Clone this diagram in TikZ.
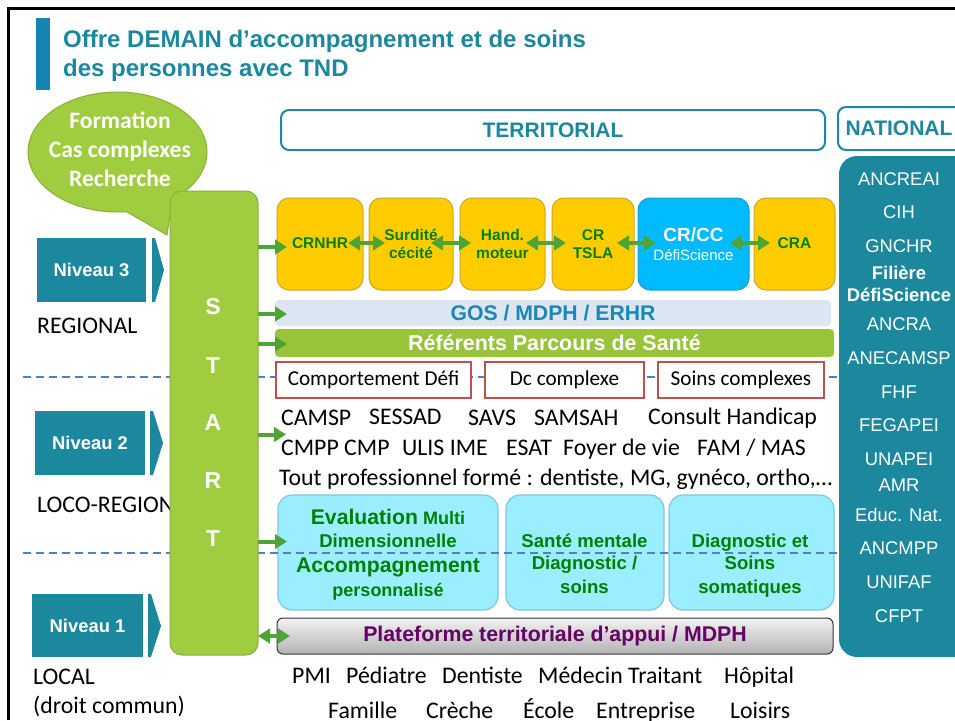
\documentclass[tikz,border=0pt]{standalone}
\usepackage{fontspec}
\setmainfont{Carlito}
\newfontfamily\arl{Liberation Sans}
\usetikzlibrary{arrows.meta,shapes.callouts,shapes.geometric}
\definecolor{teal}{HTML}{1B889D}
\definecolor{titlebar}{HTML}{1586B4}
\definecolor{lime}{HTML}{A0CD3F}
\definecolor{limeedge}{HTML}{8AAF38}
\definecolor{barlime}{HTML}{98C33B}
\definecolor{arrowgreen}{HTML}{4EA535}
\definecolor{gold}{HTML}{FFCC00}
\definecolor{goldedge}{HTML}{CDA725}
\definecolor{txtgreen}{HTML}{008000}
\definecolor{skyb}{HTML}{00BBFF}
\definecolor{skyedge}{HTML}{1C9DCF}
\definecolor{cyanb}{HTML}{9BEEFF}
\definecolor{cyanedge}{HTML}{82C6DE}
\definecolor{palebar}{HTML}{DCE6F2}
\definecolor{gosblue}{HTML}{1B87B5}
\definecolor{redbox}{HTML}{C0504D}
\definecolor{dashblue}{HTML}{4F81BD}
\definecolor{purp}{HTML}{660066}
\newcommand{\fs}[1]{\fontsize{#1}{#1}\selectfont}
\newcommand{\pxbox}[7]{\node[#6,inner sep=0pt,outer sep=0pt,minimum width={(#4-#2)*1pt},minimum height={(#5-#3)*1pt}] (#1) at ({(#2+#4)/2},{(#3+#5)/2}) {#7};}
\tikzset{
 lab/.style={anchor=base west,inner sep=0pt,text=black,font=\fs{23.8}},
 niveau/.style={fill=teal,text=white,font=\arl\bfseries\fs{18.4}},
 chev/.style={fill=teal},
 goldbox/.style={rectangle,rounded corners=12pt,fill=gold,draw=goldedge,line width=1pt,text=txtgreen,align=center,font=\arl\bfseries\fs{15.5}},
 cyanbox/.style={rectangle,rounded corners=14pt,fill=cyanb,draw=cyanedge,line width=1.2pt},
 cyantext/.style={inner sep=0pt,text=txtgreen,align=center,font=\arl\bfseries\fs{18.6}},
 redb/.style={rectangle,fill=white,draw=redbox,line width=2pt,text=black,font=\fs{21.2}},
 tealb/.style={rectangle,rounded corners=8pt,draw=teal,line width=2pt,fill=white,text=teal,font=\arl\bfseries\fs{21}},
 panel/.style={inner sep=0pt,text=white,font=\arl\fs{18.4}},
 arr/.style={draw=arrowgreen,line width=4pt,-{Triangle[length=12pt,width=14.5pt]}},
 darr/.style={draw=arrowgreen,line width=3.6pt,{Triangle[length=12pt,width=14.5pt]}-{Triangle[length=12pt,width=14.5pt]}},
 dashline/.style={draw=dashblue,line width=1.3pt,dash pattern=on 8pt off 5pt},
 startl/.style={inner sep=0pt,text=white,font=\arl\bfseries\fs{23}},
}
\begin{document}
\begin{tikzpicture}[x=1pt,y=-1pt]
\clip (0,0) rectangle (955,720);
\fill[white] (0,0) rectangle (955,720);
% frame
\coordinate (fa) at (8.5,720); \coordinate (fb) at (8.5,8.5); \coordinate (fc) at (955,8.5);
\draw[black,line width=2.5pt] (fa) -- (fb) -- (fc);
% title
\pxbox{bar}{36}{18}{50}{90}{fill=titlebar}{}
\node[anchor=north west,inner sep=0pt,align=left,text=teal,font=\arl\bfseries\fs{24}] (title) at (63,29.5) {Offre DEMAIN d’accompagnement et de soins\\[5.3pt]des personnes avec TND};
% side labels
\node[lab] (reg) at (37,333) {REGIONAL};
\node[lab] (loco) at (37,512) {LOCO-REGIONAL};
\node[lab] (loc) at (33,684) {LOCAL};
\node[lab] (droit) at (33,713) {(droit commun)};
% levels
\pxbox{n3}{37}{238}{146}{302}{niveau}{Niveau 3}
\pxbox{n2}{35}{411}{145}{475}{niveau}{Niveau 2}
\pxbox{n1}{32}{594}{143}{657}{niveau}{Niveau 1}
\fill[chev] (152,238) -- (155,238) -- (164,270) -- (155,302) -- (152,302) -- cycle;
\fill[chev] (150,411) -- (153,411) -- (163,443) -- (153,475) -- (150,475) -- cycle;
\fill[chev] (148,594) -- (151,594) -- (161,626) -- (151,657) -- (148,657) -- cycle;
% headers
\pxbox{terr}{281}{110}{825}{150}{tealb}{TERRITORIAL}
\pxbox{nat}{838}{107}{975}{150}{tealb}{}
\node[inner sep=0pt,text=teal,font=\arl\bfseries\fs{21}] (natt) at (899,128) {NATIONAL};
% gold boxes
\pxbox{crnhr}{277}{198}{363}{290}{goldbox}{\raisebox{1pt}{CRNHR}}
\pxbox{surd}{369}{198}{453}{290}{goldbox}{Surdité\\[3pt]cécité}
\pxbox{hand}{460}{198}{545}{290}{goldbox}{Hand.\\[3pt]moteur}
\pxbox{tsla}{552}{198}{634}{290}{goldbox}{CR\\[3pt]TSLA}
\pxbox{crcc}{638}{198}{749}{290}{goldbox,fill=skyb,draw=skyedge,text=white}{{\fs{19}CR/CC}\\[3pt]{\mdseries\fs{15}DéfiScience}}
\pxbox{cra}{754}{198}{835}{290}{goldbox}{\raisebox{1pt}{CRA}}
% bars
\pxbox{gos}{275}{300}{831}{326}{rectangle,rounded corners=4pt,fill=palebar,text=gosblue,font=\arl\bfseries\fs{21.2}}{\raisebox{-1pt}{GOS / MDPH / ERHR}}
\pxbox{ref}{275}{329}{834}{357}{rectangle,rounded corners=4pt,fill=barlime,text=white,font=\arl\bfseries\fs{21.4}}{\raisebox{-1pt}{Référents Parcours de Santé}}
% cyan boxes
\pxbox{evalb}{278}{495}{498}{610}{cyanbox}{}
\pxbox{sante}{506}{495}{664}{610}{cyanbox}{}
\pxbox{diag}{669}{495}{834}{610}{cyanbox}{}
\node[cyantext] (evalt) at (388,554.5) {{\fs{21.2}Evaluation} {\fs{18}Multi}\\[4.5pt]Dimensionnelle\\[6.5pt]{\fs{21.2}Accompagnement}\\[5pt]{\fs{18}personnalisé}};
\node[cyantext] (santet) at (584.5,564) {Santé mentale\\[3.5pt]Diagnostic /\\[5.5pt]soins};
\node[cyantext] (diagt) at (750,566) {Diagnostic et\\[3.5pt]Soins\\[5.5pt]somatiques};
% dashed level lines
\coordinate (d1a) at (23,377); \coordinate (d1b) at (840,377);
\coordinate (d2a) at (23,553); \coordinate (d2b) at (840,553);
\draw[dashline] (d1a) -- (d1b);
\draw[dashline] (d2a) -- (d2b);
% red boxes
\pxbox{comp}{276}{362}{471}{398}{redb}{\raisebox{-1pt}{Comportement Défi}}
\pxbox{dcc}{485}{362}{644}{398}{redb}{\raisebox{-1pt}{Dc complexe}}
\pxbox{soins}{658}{362}{824}{398}{redb}{\raisebox{-1pt}{Soins complexes}}
% text rows
\node[lab] (r1a) at (281,425) {CAMSP};
\node[lab] (r1b) at (369,424) {SESSAD};
\node[lab] (r1c) at (468,425) {SAVS};
\node[lab] (r1d) at (534,425) {SAMSAH};
\node[lab] (r1e) at (648,424) {Consult Handicap};
\node[lab] (r2a) at (281,455) {CMPP CMP};
\node[lab] (r2b) at (402,455) {ULIS IME};
\node[lab] (r2c) at (506,455) {ESAT};
\node[lab] (r2d) at (563,455) {Foyer de vie};
\node[lab] (r2e) at (697,455) {FAM / MAS};
\node[lab] (r3) at (279,485) {Tout professionnel formé : dentiste, MG, gynéco, ortho,…};
\node[lab] (b1a) at (292,683) {PMI};
\node[lab] (b1b) at (346,683) {Pédiatre};
\node[lab] (b1c) at (442,683) {Dentiste};
\node[lab] (b1d) at (538,683) {Médecin Traitant};
\node[lab] (b1e) at (724,683) {Hôpital};
\node[lab] (b2a) at (328,718) {Famille};
\node[lab] (b2b) at (426,718) {Crèche};
\node[lab] (b2c) at (523,718) {École};
\node[lab] (b2d) at (596,718) {Entreprise};
\node[lab] (b2e) at (730,718) {Loisirs};
% platform
\pxbox{plat}{277}{618}{833}{654}{rectangle,rounded corners=6pt,top color=black!5,bottom color=black!30,draw=black!80,line width=1pt,text=purp,font=\arl\bfseries\fs{21.3}}{\raisebox{-1.5pt}{Plateforme territoriale d’appui / MDPH}}
% bubble
\node[ellipse callout,draw=limeedge,fill=lime,line width=1pt,minimum width=179pt,minimum height=120pt,inner sep=0pt,callout absolute pointer={(167,235)},callout pointer arc=32] (bub) at (117.5,152) {};
\node[inner sep=0pt,align=center,text=white,font=\bfseries\fs{23.6}] (bubt) at (120,149.5) {Formation\\[5.5pt]Cas complexes\\[5pt]Recherche};
% start column
\pxbox{start}{170}{191}{258}{655}{rectangle,rounded corners=12pt,fill=lime,draw=limeedge,line width=1pt}{}
\node[startl] (s1) at (213,307) {S};
\node[startl] (s2) at (213,366) {T};
\node[startl] (s3) at (213,423) {A};
\node[startl] (s4) at (213,481) {R};
\node[startl] (s5) at (213,539) {T};
% national panel
\pxbox{natp}{839}{156}{985}{657}{rectangle,rounded corners=18pt,fill=teal}{}
\node[panel] (p1) at (899,179) {ANCREAI};
\node[panel] (p2) at (899,212) {CIH};
\node[panel] (p3) at (899,246) {GNCHR};
\node[panel,align=center,font=\arl\bfseries\fs{18.4}] (p4) at (899,284) {Filière\\[3.5pt]DéfiScience};
\node[panel] (p5) at (899,324) {ANCRA};
\node[panel] (p6) at (899,358) {ANECAMSP};
\node[panel] (p7) at (899,392) {FHF};
\node[panel] (p8) at (899,425) {FEGAPEI};
\node[panel] (p9) at (899,459) {UNAPEI};
\node[panel] (p10) at (899,485) {AMR};
\node[panel] (p11) at (899,515) {Educ. Nat.};
\node[panel] (p12) at (899,548) {ANCMPP};
\node[panel] (p13) at (899,582) {UNIFAF};
\node[panel] (p14) at (899,616) {CFPT};
% connectors from START
\draw[arr] (start.east |- 0,247) -- ([xshift=10pt]crnhr.west |- 0,247);
\draw[arr] (start.east |- 0,314) -- ([xshift=12pt]gos.west |- 0,314);
\draw[arr] (start.east |- 0,344) -- ([xshift=12pt]ref.west |- 0,344);
\draw[arr] (start.east |- 0,434.5) -- ([xshift=5pt]r2a.west |- 0,434.5);
\draw[arr] (start.east |- 0,541.5) -- ([xshift=9pt]evalb.west |- 0,541.5);
\draw[darr] (start.east |- plat) -- ([xshift=13pt]plat.west);
% links between centres
\draw[darr] ([xshift=-15pt,yshift=1pt]crnhr.east) -- ([xshift=16pt,yshift=1pt]surd.west);
\draw[darr] ([xshift=-22pt,yshift=1pt]surd.east) -- ([xshift=11pt,yshift=1pt]hand.west);
\draw[darr] ([xshift=-19pt,yshift=1pt]hand.east) -- ([xshift=14pt,yshift=1pt]tsla.west);
\draw[darr] ([xshift=-17pt,yshift=1pt]tsla.east) -- ([xshift=18pt,yshift=1pt]crcc.west);
\draw[darr] ([xshift=-19pt,yshift=1pt]crcc.east) -- ([xshift=16pt,yshift=1pt]cra.west);
\end{tikzpicture}
\end{document}
